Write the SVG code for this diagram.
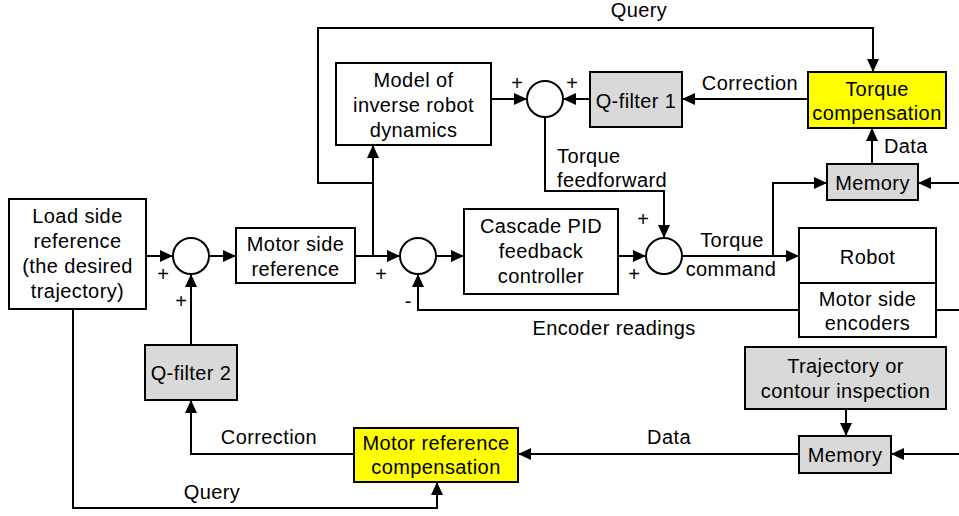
<svg xmlns="http://www.w3.org/2000/svg" width="959" height="516" viewBox="0 0 959 516">
<style>
text{font-family:"Liberation Sans",Arial,sans-serif;font-size:20px;letter-spacing:0.4px;fill:#000;text-anchor:middle}
.lbl{text-anchor:start}
.pm{font-size:20px;letter-spacing:0}
.box{fill:#fff;stroke:#000;stroke-width:2}
.gray{fill:#d9d9d9;stroke:#000;stroke-width:2}
.yel{fill:#ffff00;stroke:#000;stroke-width:2}
.sum{fill:#fff;stroke:#000;stroke-width:2}
.c{fill:none;stroke:#000;stroke-width:2}
.a{marker-end:url(#ah)}
</style>
<defs>
<marker id="ah" viewBox="0 0 13 12" refX="13" refY="6" markerWidth="13" markerHeight="12" markerUnits="userSpaceOnUse" orient="auto">
<path d="M0,0 L13,6 L0,12 z" fill="#000"/>
</marker>
</defs>
<rect width="959" height="516" fill="#fff"/>
<g id="connectors">
<path class="c a" d="M146,256 H173"/>
<path class="c a" d="M209,256 H236"/>
<path class="c a" d="M355,256 H400"/>
<path class="c a" d="M373,256 V145"/>
<path class="c a" d="M373,183 H318 V28 H873 V72"/>
<path class="c a" d="M436,256 H464"/>
<path class="c a" d="M618,256 H646"/>
<path class="c a" d="M682,256 H799"/>
<path class="c a" d="M773,256 V183 H827"/>
<path class="c a" d="M959,183 H918"/>
<path class="c a" d="M872,164 V128"/>
<path class="c a" d="M808,99 H682"/>
<path class="c a" d="M590,99 H563"/>
<path class="c a" d="M491,99 H527"/>
<path class="c a" d="M545,117 V191 H664 V238"/>
<path class="c" d="M959,310 H936"/>
<path class="c a" d="M799,310 H418 V274"/>
<path class="c a" d="M191,345 V274"/>
<path class="c a" d="M354,454 H191 V400"/>
<path class="c a" d="M73,309 V508 H437 V482"/>
<path class="c a" d="M799,454 H518"/>
<path class="c a" d="M959,454 H891"/>
<path class="c a" d="M846,409 V436"/>
</g>
<g id="labels">
<text x="639" y="17">Query</text>
<text x="750" y="90">Correction</text>
<text class="lbl" x="884" y="153">Data</text>
<text class="lbl" x="557" y="163">Torque</text>
<text class="lbl" x="557" y="187">feedforward</text>
<text x="732" y="247">Torque</text>
<text x="731" y="276">command</text>
<text x="614" y="335">Encoder readings</text>
<text x="269" y="444">Correction</text>
<text x="669" y="444">Data</text>
<text x="212" y="499">Query</text>
<text class="pm" x="517" y="90">+</text>
<text class="pm" x="572" y="90">+</text>
<text class="pm" x="643" y="226">+</text>
<text class="pm" x="634" y="281">+</text>
<text class="pm" x="163" y="281">+</text>
<text class="pm" x="181" y="308">+</text>
<text class="pm" x="381" y="281">+</text>
<text class="pm" x="408" y="308">-</text>
</g>
<g id="load-ref">
<rect class="box" x="9" y="199" width="137" height="110"/>
<text x="77.5" y="223">Load side</text>
<text x="77.5" y="248">reference</text>
<text x="77.5" y="273">(the desired</text>
<text x="77.5" y="298">trajectory)</text>
</g>
<g id="sum1"><circle class="sum" cx="191" cy="256" r="18"/></g>
<g id="motor-ref">
<rect class="box" x="236" y="228" width="119" height="55"/>
<text x="295.5" y="251">Motor side</text>
<text x="295.5" y="276">reference</text>
</g>
<g id="sum2"><circle class="sum" cx="418" cy="256" r="18"/></g>
<g id="model">
<rect class="box" x="336" y="63" width="155" height="82"/>
<text x="413.5" y="87">Model of</text>
<text x="413.5" y="112">inverse robot</text>
<text x="413.5" y="137">dynamics</text>
</g>
<g id="sum3"><circle class="sum" cx="545" cy="99" r="18"/></g>
<g id="qfilter1">
<rect class="gray" x="590" y="72" width="92" height="55"/>
<text x="636" y="108">Q-filter 1</text>
</g>
<g id="torque-comp">
<rect class="yel" x="808" y="72" width="138" height="56"/>
<text x="877" y="96">Torque</text>
<text x="877" y="120">compensation</text>
</g>
<g id="memory1">
<rect class="gray" x="827" y="164" width="91" height="36"/>
<text x="872.5" y="190">Memory</text>
</g>
<g id="cascade">
<rect class="box" x="464" y="209" width="154" height="85"/>
<text x="541" y="233">Cascade PID</text>
<text x="541" y="258">feedback</text>
<text x="541" y="283">controller</text>
</g>
<g id="sum4"><circle class="sum" cx="664" cy="256" r="18"/></g>
<g id="robot">
<rect class="box" x="799" y="228" width="137" height="109"/>
<line x1="799" y1="283" x2="936" y2="283" stroke="#000" stroke-width="2"/>
<text x="867.5" y="264">Robot</text>
<text x="867.5" y="306">Motor side</text>
<text x="867.5" y="330">encoders</text>
</g>
<g id="trajectory">
<rect class="gray" x="745" y="347" width="201" height="62"/>
<text x="845.5" y="373">Trajectory or</text>
<text x="845.5" y="398">contour inspection</text>
</g>
<g id="memory2">
<rect class="gray" x="799" y="436" width="92" height="37"/>
<text x="845" y="462">Memory</text>
</g>
<g id="qfilter2">
<rect class="gray" x="145" y="345" width="92" height="55"/>
<text x="191" y="380">Q-filter 2</text>
</g>
<g id="motor-ref-comp">
<rect class="yel" x="354" y="428" width="164" height="54"/>
<text x="436" y="450">Motor reference</text>
<text x="436" y="474">compensation</text>
</g>
</svg>
